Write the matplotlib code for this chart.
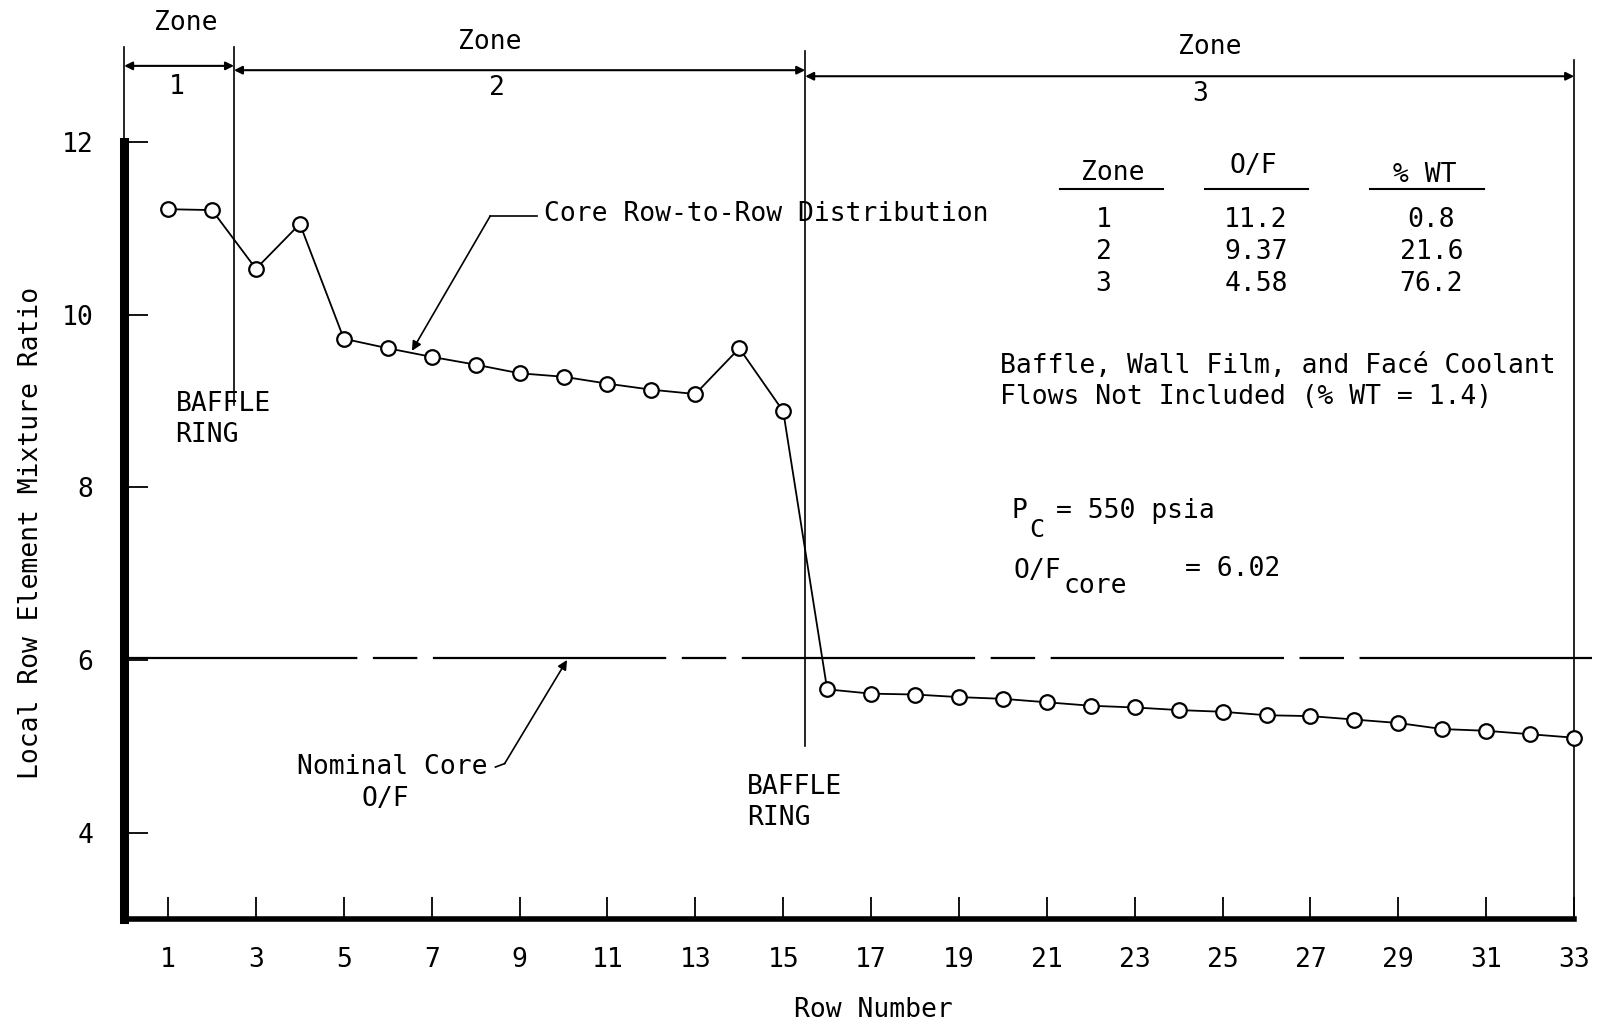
import matplotlib
matplotlib.use("Agg")
import matplotlib.pyplot as plt

# ---------------- data ----------------
rows = list(range(1, 34))
mixture_ratio = [11.22, 11.21, 10.53, 11.05, 9.72, 9.61, 9.51, 9.42, 9.32, 9.28,
                 9.20, 9.13, 9.08, 9.61, 8.88,
                 5.66, 5.61, 5.60, 5.57, 5.55, 5.51, 5.47, 5.45, 5.42, 5.40,
                 5.36, 5.35, 5.31, 5.27, 5.20, 5.18, 5.14, 5.10]
nominal_core_of = 6.02
x_ticks = list(range(1, 34, 2))
y_ticks = [4, 6, 8, 10, 12]
baffle_rows = [2.5, 15.5]
zone_bounds = [0, 2.5, 15.5, 33]
zone_names = ["1", "2", "3"]
table_zone = ["1", "2", "3"]
table_of = ["11.2", "9.37", "4.58"]
table_wt = ["0.8", "21.6", "76.2"]

FONT = "DejaVu Sans Mono"
FS = 19

fig = plt.figure(figsize=(16.08, 10.28), dpi=100)
ax = fig.add_axes([0.0772, 0.106, 0.9154, 0.882])
ax.set_xlim(0, 33.5)
ax.set_ylim(3, 13.5)

for s in ["top", "right"]:
    ax.spines[s].set_visible(False)
ax.spines["left"].set_linewidth(6.5)
ax.spines["left"].set_bounds(3, 12)
ax.spines["bottom"].set_linewidth(4)
ax.spines["bottom"].set_bounds(0, 33)

ax.set_xticks(x_ticks)
ax.set_xticklabels([str(t) for t in x_ticks], fontfamily=FONT, fontsize=FS)
ax.set_yticks(y_ticks)
ax.set_yticklabels([str(t) for t in y_ticks], fontfamily=FONT, fontsize=FS)
ax.tick_params(axis="x", direction="in", length=16, width=1.3, pad=20)
ax.tick_params(axis="y", direction="in", length=17, width=1.3, pad=22)

# data line
ax.plot(rows, mixture_ratio, color="black", lw=1.3, marker="o", ms=10.5,
        mfc="white", mec="black", mew=1.6, zorder=3)

# nominal core O/F dashed line
ax.plot([0, 33.4], [nominal_core_of, nominal_core_of], color="black", lw=1.6,
        dashes=(105, 7, 20, 7), zorder=2)

# vertical boundary lines
ax.plot([0, 0], [12, 13.1], color="black", lw=1.2, clip_on=False)
ax.plot([baffle_rows[0]] * 2, [8.95, 13.1], color="black", lw=1.2, clip_on=False)
ax.plot([baffle_rows[1]] * 2, [5.0, 13.05], color="black", lw=1.2, clip_on=False)
ax.plot([33, 33], [3, 12.95], color="black", lw=1.2, clip_on=False)

# zone arrows
zone_y = [12.88, 12.83, 12.76]
zone_lbl_y = [13.38, 13.16, 13.10]
zone_num_y = [12.64, 12.62, 12.55]
zone_lbl_x = [1.4, 8.33, 24.71]
zone_num_x = [1.19, 8.49, 24.48]
for i in range(3):
    ax.annotate("", xy=(zone_bounds[i], zone_y[i]), xytext=(zone_bounds[i + 1], zone_y[i]),
                arrowprops=dict(arrowstyle="<|-|>", color="black", lw=1.5,
                                mutation_scale=12, shrinkA=0, shrinkB=0),
                annotation_clip=False)
    ax.text(zone_lbl_x[i], zone_lbl_y[i], "Zone", ha="center", va="center",
            fontfamily=FONT, fontsize=FS)
    ax.text(zone_num_x[i], zone_num_y[i], zone_names[i], ha="center", va="center",
            fontfamily=FONT, fontsize=FS)

# baffle ring labels
ax.text(1.17, 9.12, "BAFFLE\nRING", ha="left", va="top", fontfamily=FONT,
        fontsize=FS, linespacing=1.25)
ax.text(14.17, 4.68, "BAFFLE\nRING", ha="left", va="top", fontfamily=FONT,
        fontsize=FS, linespacing=1.25)

# Core Row-to-Row Distribution annotation
ax.text(9.55, 11.16, "Core Row-to-Row Distribution", ha="left", va="center",
        fontfamily=FONT, fontsize=FS)
ax.plot([9.4, 8.33], [11.14, 11.14], color="black", lw=1.2)
ax.annotate("", xy=(6.55, 9.58), xytext=(8.33, 11.14),
            arrowprops=dict(arrowstyle="-|>", color="black", lw=1.2,
                            mutation_scale=14, shrinkA=0, shrinkB=0))

# Nominal core O/F annotation
ax.text(6.1, 4.76, "Nominal Core", ha="center", va="center",
        fontfamily=FONT, fontsize=FS)
ax.text(5.95, 4.39, "O/F", ha="center", va="center", fontfamily=FONT, fontsize=FS)
ax.plot([8.45, 8.66], [4.76, 4.80], color="black", lw=1.2)
ax.annotate("", xy=(10.08, 6.0), xytext=(8.66, 4.80),
            arrowprops=dict(arrowstyle="-|>", color="black", lw=1.2,
                            mutation_scale=14, shrinkA=0, shrinkB=0))

# table
hdr_x = [22.5, 25.69, 29.61]
hdr_y = [11.64, 11.72, 11.62]
hdr = ["Zone", "O/F", "% WT"]
ul = [(21.3, 23.65), (24.6, 26.95), (28.35, 30.95)]
for i in range(3):
    ax.text(hdr_x[i], hdr_y[i], hdr[i], ha="center", va="center",
            fontfamily=FONT, fontsize=FS)
    ax.plot(ul[i], [11.45, 11.45], color="black", lw=1.5)
row_y = [11.09, 10.72, 10.35]
for j in range(3):
    ax.text(22.29, row_y[j], table_zone[j], ha="center", va="center",
            fontfamily=FONT, fontsize=FS)
    ax.text(25.76, row_y[j], table_of[j], ha="center", va="center",
            fontfamily=FONT, fontsize=FS)
    ax.text(29.75, row_y[j], table_wt[j], ha="center", va="center",
            fontfamily=FONT, fontsize=FS)

ax.text(19.93, 9.40, "Baffle, Wall Film, and Facé Coolant", ha="left",
        va="center", fontfamily=FONT, fontsize=FS)
ax.text(19.93, 9.05, "Flows Not Included (% WT = 1.4)", ha="left",
        va="center", fontfamily=FONT, fontsize=FS)

# Pc and O/F core
ax.text(20.2, 7.73, "P", ha="left", va="center", fontfamily=FONT, fontsize=FS)
ax.text(20.6, 7.50, "C", ha="left", va="center", fontfamily=FONT, fontsize=FS - 1)
ax.text(21.2, 7.73, "= 550 psia", ha="left", va="center", fontfamily=FONT, fontsize=FS)
ax.text(20.23, 7.03, "O/F", ha="left", va="center", fontfamily=FONT, fontsize=FS)
ax.text(21.38, 6.86, "core", ha="left", va="center", fontfamily=FONT, fontsize=FS)
ax.text(24.15, 7.05, "= 6.02", ha="left", va="center", fontfamily=FONT, fontsize=FS)

# axis labels
ax.text(17.06, 1.95, "Row Number", ha="center", va="center", fontfamily=FONT,
        fontsize=FS, clip_on=False)
ax.text(-2.12, 7.47, "Local Row Element Mixture Ratio", ha="center", va="center",
        rotation=90, fontfamily=FONT, fontsize=FS, clip_on=False)

fig.savefig("out.png", dpi=100)
